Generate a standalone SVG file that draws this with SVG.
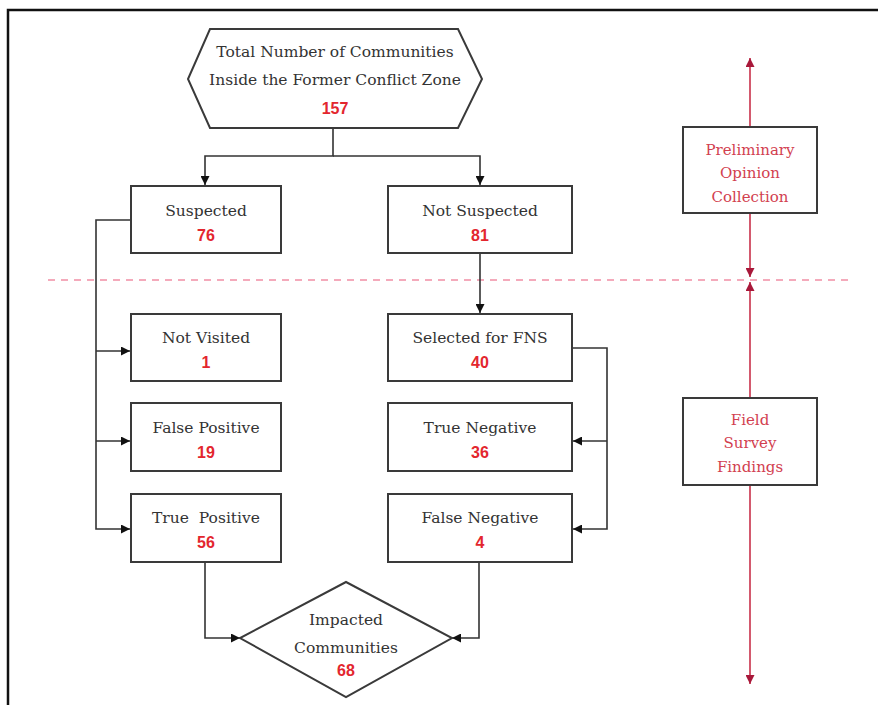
<svg xmlns="http://www.w3.org/2000/svg" width="878" height="705" viewBox="0 0 878 705">
<style>
.box{fill:#fff;stroke:#3a3a3a;stroke-width:2}
.lbl{font-family:"DejaVu Serif","Liberation Serif",serif;font-size:15.5px;fill:#333;text-anchor:middle}
.num{font-family:"Liberation Sans",Arial,sans-serif;font-size:16px;font-weight:bold;fill:#e3262e;text-anchor:middle}
.rlbl{font-family:"DejaVu Serif","Liberation Serif",serif;font-size:15px;fill:#d2404f;text-anchor:middle}
.con{fill:none;stroke:#333;stroke-width:1.6}
.rcon{fill:none;stroke:#c8304a;stroke-width:1.6}
</style>
<defs>
<marker id="arr" viewBox="0 0 10 10" refX="10" refY="5" markerWidth="9" markerHeight="9" markerUnits="userSpaceOnUse" orient="auto">
<path d="M0,0 L10,5 L0,10 z" fill="#111"/>
</marker>
<marker id="rarr" viewBox="0 0 10 10" refX="10" refY="5" markerWidth="9" markerHeight="9" markerUnits="userSpaceOnUse" orient="auto">
<path d="M0,0 L10,5 L0,10 z" fill="#a8183a"/>
</marker>
</defs>
<rect width="878" height="705" fill="#fff"/>
<path d="M8,705 V10 H878" fill="none" stroke="#111" stroke-width="2.5"/>
<line x1="48" y1="280" x2="848" y2="280" stroke="#f4aabb" stroke-width="2" stroke-dasharray="7 6"/>

<g id="connectors">
<path class="con" d="M333,128 V156 H205 V185" marker-end="url(#arr)"/>
<path class="con" d="M333,156 H480 V185" marker-end="url(#arr)"/>
<path class="con" d="M131,220 H96 V529 H130" marker-end="url(#arr)"/>
<path class="con" d="M96,351 H130" marker-end="url(#arr)"/>
<path class="con" d="M96,441 H130" marker-end="url(#arr)"/>
<path class="con" d="M480,253 V313" marker-end="url(#arr)"/>
<path class="con" d="M572,348 H607 V529 H573" marker-end="url(#arr)"/>
<path class="con" d="M607,441 H573" marker-end="url(#arr)"/>
<path class="con" d="M205,562 V638 H240" marker-end="url(#arr)"/>
<path class="con" d="M479,562 V638 H452" marker-end="url(#arr)"/>
<path class="rcon" d="M750,127 V58" marker-end="url(#rarr)"/>
<path class="rcon" d="M750,213 V277" marker-end="url(#rarr)"/>
<path class="rcon" d="M750,398 V282" marker-end="url(#rarr)"/>
<path class="rcon" d="M750,485 V684" marker-end="url(#rarr)"/>
</g>

<g id="total">
<polygon class="box" points="210,29 458,29 482,79 458,128 210,128 188,79"/>
<text class="lbl" x="335" y="57">Total Number of Communities</text>
<text class="lbl" x="335" y="85">Inside the Former Conflict Zone</text>
<text class="num" x="335" y="114">157</text>
</g>

<g id="suspected">
<rect class="box" x="131" y="186" width="150" height="67"/>
<text class="lbl" x="206" y="216">Suspected</text>
<text class="num" x="206" y="241">76</text>
</g>
<g id="not-suspected">
<rect class="box" x="388" y="186" width="184" height="67"/>
<text class="lbl" x="480" y="216">Not Suspected</text>
<text class="num" x="480" y="241">81</text>
</g>
<g id="not-visited">
<rect class="box" x="131" y="314" width="150" height="67"/>
<text class="lbl" x="206" y="343">Not Visited</text>
<text class="num" x="206" y="368">1</text>
</g>
<g id="selected-fns">
<rect class="box" x="388" y="314" width="184" height="67"/>
<text class="lbl" x="480" y="343">Selected for FNS</text>
<text class="num" x="480" y="368">40</text>
</g>
<g id="false-positive">
<rect class="box" x="131" y="403" width="150" height="68"/>
<text class="lbl" x="206" y="433">False Positive</text>
<text class="num" x="206" y="458">19</text>
</g>
<g id="true-negative">
<rect class="box" x="388" y="403" width="184" height="68"/>
<text class="lbl" x="480" y="433">True Negative</text>
<text class="num" x="480" y="458">36</text>
</g>
<g id="true-positive">
<rect class="box" x="131" y="494" width="150" height="68"/>
<text class="lbl" x="206" y="523" xml:space="preserve">True  Positive</text>
<text class="num" x="206" y="548">56</text>
</g>
<g id="false-negative">
<rect class="box" x="388" y="494" width="184" height="68"/>
<text class="lbl" x="480" y="523">False Negative</text>
<text class="num" x="480" y="548">4</text>
</g>
<g id="impacted">
<polygon class="box" points="346,582 452,638 346,697 240,638"/>
<text class="lbl" x="346" y="625">Impacted</text>
<text class="lbl" x="346" y="653">Communities</text>
<text class="num" x="346" y="676">68</text>
</g>

<g id="preliminary">
<rect class="box" x="683" y="127" width="134" height="86"/>
<text class="rlbl" x="750" y="155">Preliminary</text>
<text class="rlbl" x="750" y="178">Opinion</text>
<text class="rlbl" x="750" y="202">Collection</text>
</g>
<g id="field-survey">
<rect class="box" x="683" y="398" width="134" height="87"/>
<text class="rlbl" x="750" y="425">Field</text>
<text class="rlbl" x="750" y="448">Survey</text>
<text class="rlbl" x="750" y="472">Findings</text>
</g>
</svg>
